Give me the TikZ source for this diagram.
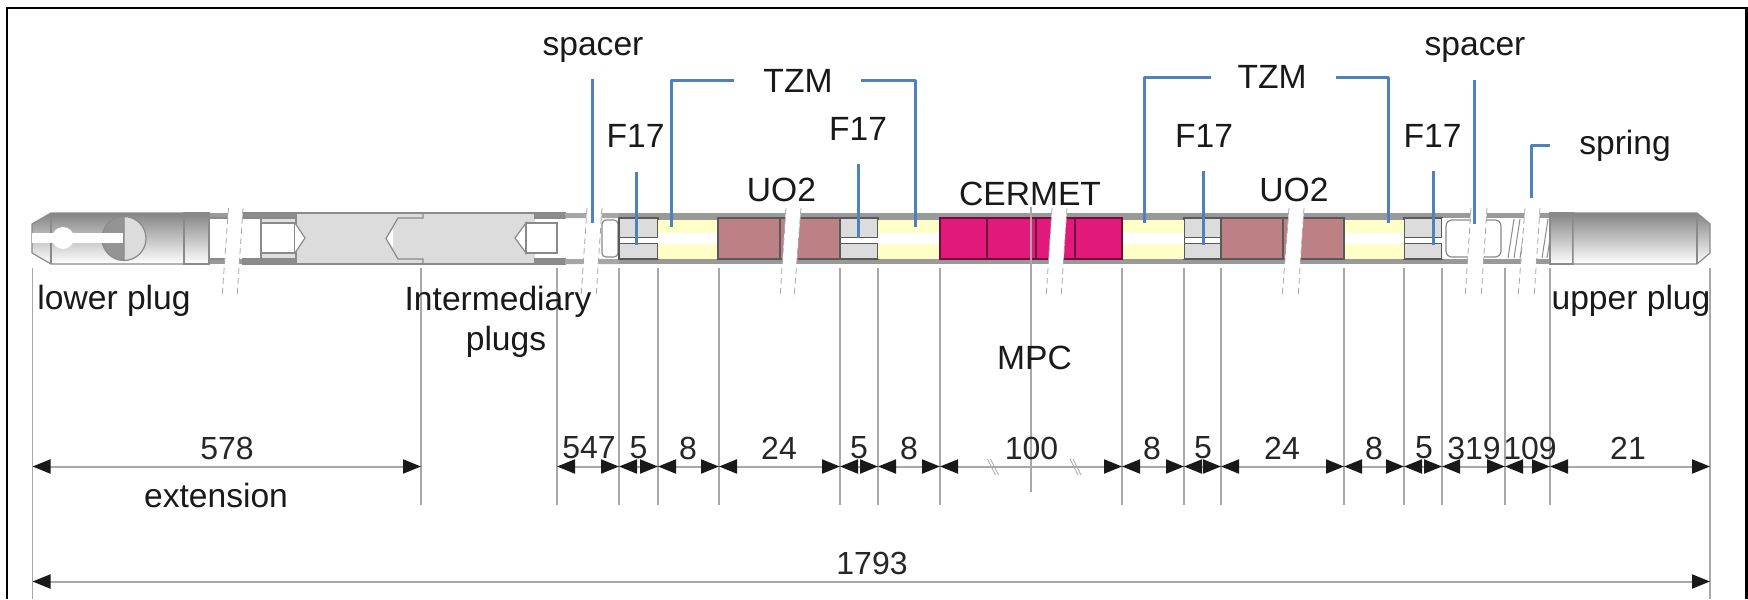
\documentclass[tikz,border=0pt]{standalone}
\usepackage{fontspec}
\setmainfont{Liberation Sans}
\usepackage{tikz}
\usetikzlibrary{arrows.meta, calc, positioning}
\definecolor{leaderblue}{HTML}{4F81BD}
\definecolor{tickgray}{HTML}{A8A8A8}
\definecolor{bandgray}{HTML}{999999}
\definecolor{plugline}{HTML}{8A8A8A}
\definecolor{steelgray}{HTML}{DCDCDC}
\definecolor{tzmyellow}{HTML}{FFFFC8}
\definecolor{uobrown}{HTML}{BC8085}
\definecolor{cermetpink}{HTML}{E0197A}
\tikzstyle{label} = [inner sep=0pt, font=\fontsize{16.8}{20}\selectfont, text=black!90, align=center]
\tikzstyle{dimlabel} = [inner sep=0pt, font=\fontsize{16}{18}\selectfont, text=black!85]
\tikzstyle{pellet} = [draw=black!65, line width=0.6pt]
\tikzstyle{plug} = [draw=plugline, line width=0.6pt]
\tikzstyle{shaded plug} = [plug, top color=black!48, bottom color=white]
\tikzstyle{tick} = [tickgray, line width=0.9pt]
\tikzstyle{leader} = [leaderblue, line width=1.5pt, line join=round]
\tikzstyle{dim} = [tickgray, line width=1pt, {Triangle[length=9pt,width=7pt,color=black!90]}-{Triangle[length=9pt,width=7pt,color=black!90]}]
\tikzstyle{cutedge} = [black!35, line width=0.4pt, densely dashed]
\begin{document}
\begin{tikzpicture}[x=0.5pt, y=-0.5pt]
	\useasboundingbox[clip] (0,0) rectangle (1748,599);
	\fill[white] (0,0) rectangle (1748,599);

	% rod
	\fill[bandgray] (209,213) rectangle (1573,264);
	\fill[white] (209,218) rectangle (296,259);
	\fill[steelgray] (296,213) rectangle (535,264);
	\draw[plug] (296,213) -- (535,213) (296,264) -- (535,264);
	\fill[white] (535,218) rectangle (619,259);

	% lower plug
	\path[shaded plug] (32,224) -- (51,213) -- (184,213) -- (184,264) -- (51,264) -- (32,253) -- cycle;
	\draw[plug] (51,213) -- (51,264);
	\fill[steelgray] (124,216.5) arc (-90:90:22) -- cycle;
	\fill[black!42] (124,216.5) arc (-90:-270:22) -- cycle;
	\draw[plug] (124,238.5) circle (22) (124,216.5) -- (124,260.5);
	\fill[white] (32,233) rectangle (123,243);
	\fill[white] (63,238) circle (11);
	\path[shaded plug] (184,213) rectangle (209,264);
	\draw[plug] (209,218) -- (228,218) (209,259) -- (228,259);

	% intermediary plugs
	\draw[plug, fill=black!45] (243,213) rectangle (296,218) (243,259) rectangle (296,264);
	\draw[plug, fill=white] (261,223) rectangle (295,253);
	\draw[plug, fill=white] (295,223) -- (305,238) -- (295,253);
	\draw[plug, fill=black!12] (261,218) rectangle (296,223) (261,253) rectangle (296,259);
	\draw[plug] (423,213) -- (423,218) -- (398,218) -- (386,238.5) -- (398,259) -- (423,259) -- (423,264);
	\fill[white] (387,238.5) -- (393,229) -- (393,248) -- cycle;
	\draw[plug, fill=white] (515,238) -- (526,223) -- (526,253) -- cycle;
	\draw[plug, fill=white] (526,223) rectangle (557,253);
	\draw[plug, fill=black!45] (535,213) rectangle (565,218) (535,259) rectangle (565,264);
	\fill[black!35] (565,213) rectangle (619,218) (565,259) rectangle (619,264);
	\draw[plug, rounded corners=2pt] (602,220) rectangle (618,257);

	% pellets
	\foreach \xa/\xb in {619/658, 840/878, 1184/1221, 1404/1442}{
		\draw[pellet, fill=steelgray] (\xa,218) rectangle (\xb,259);
		\draw[pellet, fill=white, line width=0.3pt] (\xa,237) rectangle (\xb,243);
	}
	\foreach \xa/\xb in {658/718, 878/940, 1122/1184, 1344/1404}{
		\fill[tzmyellow] (\xa,220) rectangle (\xb,259);
		\fill[white] (\xa,233) rectangle (\xb,244);
	}
	\foreach \xa/\xb in {718/780, 780/840, 1221/1283, 1283/1344}{
		\draw[pellet, fill=uobrown] (\xa,218) rectangle (\xb,259);
	}
	\foreach \xa/\xb in {940/987, 987/1036, 1036/1075, 1075/1122}{
		\draw[pellet, draw=black!50!cermetpink, fill=cermetpink] (\xa,218) rectangle (\xb,259);
	}

	% upper plug and spring
	\fill[white] (1442,218) rectangle (1550,259);
	\draw[plug, rounded corners=3pt] (1446,220) rectangle (1501,257);
	\foreach \xpos in {1508,1514,1520,1542,1547}{
		\draw[plug, line width=0.5pt] (\xpos,258) -- (\xpos+6,219);
	}
	\path[shaded plug] (1550,213) rectangle (1573,264);
	\path[shaded plug] (1573,213) -- (1697,213) -- (1710,224) -- (1710,253) -- (1697,264) -- (1573,264) -- cycle;
	\draw[plug] (1697,213) -- (1697,264);

	% cuts
	\foreach \ta/\tb/\ba/\bb in {228.5/243/222/237, 587/602/581/596, 786/801/780/794, 1052/1067/1046/1061, 1289/1304/1282/1298, 1471/1487/1465/1481, 1525/1540/1518/1534}{
		\fill[white] (\ta,208) -- (\tb,208) -- (\bb,298) -- (\ba,298) -- cycle;
		\draw[cutedge] (\ta,208) -- (\ba,298) (\tb,208) -- (\bb,298);
	}

	% ticks and dimension lines
	\foreach \name/\xpos in {LowerEnd/32.5, ExtEnd/421, SpacerA/557, FA/619, TzmA/658, UoA/719, FB/840, TzmB/878, CermetA/940, CermetB/1122, FC/1184, UoB/1221, TzmC/1344, FD/1404, SpacerB/1442, SpringA/1505, SpringB/1550, UpperEnd/1710}{
		\coordinate (\name) at (\xpos,466.5);
	}
	\foreach \name in {ExtEnd, SpacerA, FA, TzmA, UoA, FB, TzmB, CermetA, CermetB, FC, UoB, TzmC, FD, SpacerB, SpringA, SpringB}{
		\draw[tick] (\name |- 0,268) -- (\name |- 0,505);
	}
	\draw[tick] (LowerEnd |- 0,268) -- (LowerEnd |- 0,599);
	\draw[tick] (UpperEnd |- 0,268) -- (UpperEnd |- 0,599);
	\coordinate (MpcMid) at (1031,466.5);
	\draw[tick, line width=0.6pt] (MpcMid |- 0,207) -- (MpcMid |- 0,492);

	\foreach \from/\to in {LowerEnd/ExtEnd, SpacerA/FA, FA/TzmA, TzmA/UoA, UoA/FB, FB/TzmB, TzmB/CermetA, CermetA/CermetB, CermetB/FC, FC/UoB, UoB/TzmC, TzmC/FD, FD/SpacerB, SpacerB/SpringA, SpringA/SpringB, SpringB/UpperEnd}{
		\draw[dim] (\from) -- (\to);
	}
	\coordinate (TotalA) at (32.5,581.5);
	\coordinate (TotalB) at (1710,581.5);
	\draw[dim] (TotalA) -- (TotalB);
	\foreach \xpos in {992.5,1075}{
		\draw[tickgray, line width=0.4pt] (\xpos-5,459) -- (\xpos+3,475) (\xpos-2,459) -- (\xpos+6,475);
	}

	% leaders
	\foreach \name/\xpos/\ypos in {SpacerLeadA/592/79, SpacerTipA/592/223, FLeadA/636/172, FTipA/636/245, TzmLeadA/734/81, TzmCornerA/671/81, TzmTipA/671/227, TzmLeadB/861/81, TzmCornerB/915/81, TzmTipB/915/227, FLeadB/858.5/164, FTipB/858.5/238, TzmLeadC/1211/78, TzmCornerC/1144/78, TzmTipC/1144/223, TzmLeadD/1336/78, TzmCornerD/1388/78, TzmTipD/1388/223, FLeadC/1203.5/171, FTipC/1203.5/245, FLeadD/1433/171, FTipD/1433/245, SpacerLeadB/1474.5/80, SpacerTipB/1474.5/224, SpringLead/1550/145, SpringCorner/1531.5/145, SpringTip/1531.5/198}{
		\coordinate (\name) at (\xpos,\ypos);
	}
	\foreach \from/\to in {SpacerLeadA/SpacerTipA, FLeadA/FTipA, FLeadB/FTipB, FLeadC/FTipC, FLeadD/FTipD, SpacerLeadB/SpacerTipB}{
		\draw[leader] (\from) -- (\to);
	}
	\draw[leader] (TzmLeadA) -- (TzmCornerA) -- (TzmTipA);
	\draw[leader] (TzmLeadB) -- (TzmCornerB) -- (TzmTipB);
	\draw[leader] (TzmLeadC) -- (TzmCornerC) -- (TzmTipC);
	\draw[leader] (TzmLeadD) -- (TzmCornerD) -- (TzmTipD);
	\draw[leader] (SpringLead) -- (SpringCorner) -- (SpringTip);

	% frame
	\coordinate (FrameA) at (7,599);
	\coordinate (FrameB) at (7,8);
	\coordinate (FrameC) at (1746.5,8);
	\coordinate (FrameD) at (1746.5,599);
	\draw[black, line width=1.3pt] (FrameA) -- (FrameB) -- (FrameC) -- (FrameD);

	% labels
	\node (SpacerLeft) [label] at (593,50) {spacer};
	\node (SpacerRight) [label] at (1475,50) {spacer};
	\node (TzmLeft) [label] at (798,81) {TZM};
	\node (TzmRight) [label] at (1272,77) {TZM};
	\node (FA17) [label] at (635.5,136) {F17};
	\node (FB17) [label] at (858,129) {F17};
	\node (FC17) [label] at (1204,136) {F17};
	\node (FD17) [label] at (1432.5,136) {F17};
	\node (UoLeft) [label] at (781.5,190) {UO2};
	\node (UoRight) [label] at (1294,190) {UO2};
	\node (Cermet) [label] at (1030,194) {CERMET};
	\node (Spring) [label] at (1625,146) {spring};
	\node (LowerPlug) [label] at (114,301) {lower plug};
	\node (UpperPlug) [label] at (1631,301) {upper plug};
	\node (Intermediary) [label] at (498,322) {Intermediary\\\hspace*{8pt}plugs};
	\node (Mpc) [label] at (1034.5,358) {MPC};
	\node (Extension) [label] at (216,495) {extension};
	\node (DimExtension) [dimlabel] at (227,448) {578};
	\node (DimTotal) [dimlabel] at (872,563) {1793};
	\foreach \xpos/\txt in {589/547, 638.5/5, 688/8, 779/24, 859/5, 909/8, 1031.5/100, 1152/8, 1203/5, 1282/24, 1374/8, 1424/5, 1474/319, 1530/109, 1628/21}{
		\node (Dim\txt at \xpos) [dimlabel] at (\xpos,448) {\txt};
	}
\end{tikzpicture}
\end{document}
